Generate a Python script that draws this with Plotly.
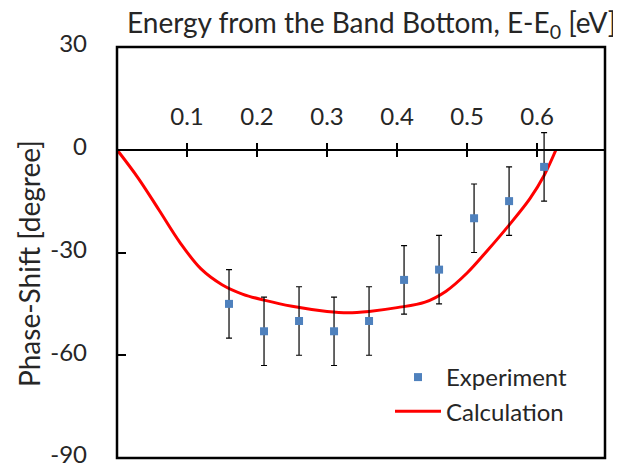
import plotly.graph_objects as go

# Experimental data
exp_x = [0.16, 0.21, 0.26, 0.31, 0.36, 0.41, 0.46, 0.51, 0.56, 0.61]
exp_y = [-45, -53, -50, -53, -50, -38, -35, -20, -15, -5]
exp_err = [10, 10, 10, 10, 10, 10, 10, 10, 10, 10]

# Calculated curve
calc_x = [0, 0.03, 0.06, 0.09, 0.12, 0.15, 0.18, 0.21, 0.25, 0.30, 0.33, 0.36,
          0.40, 0.44, 0.47, 0.50, 0.53, 0.56, 0.59, 0.61, 0.627]
calc_y = [0, -8.2, -17.6, -27.1, -34.8, -39.4, -42.2, -43.9, -45.7, -47.2, -47.6,
          -47.2, -46.1, -44.5, -41.3, -36.0, -29.2, -22.0, -14.2, -7.5, 0]

x_ticks = [0.1, 0.2, 0.3, 0.4, 0.5, 0.6]
x_tick_text = ["0.1", "0.2", "0.3", "0.4", "0.5", "0.6"]
y_ticks = [30, 0, -30, -60, -90]
y_tick_text = ["30", "0", "-30", "-60", "-90"]

FONT = "Lato"
TXT = "#262626"

# page body has an 8px margin; layout is compensated for it
ML, MT, PW, PH = 109, 39, 488, 411
W, H = 613, 458


def px(x):
    return (x - 8 - ML) / PW


def py(y):
    return (MT + PH - (y - 8)) / PH


fig = go.Figure()
fig.add_trace(go.Scatter(
    x=calc_x, y=calc_y, mode="lines", name="Calculation",
    line=dict(color="#ff0000", width=3, shape="spline", smoothing=1.0),
    legendgroup="b", legendrank=2,
))
fig.add_trace(go.Scatter(
    x=exp_x, y=exp_y, mode="markers", name="Experiment",
    marker=dict(symbol="square", size=8, color="#4f81bd"),
    error_y=dict(type="data", array=exp_err, color="black", thickness=1.2, width=3),
    legendgroup="a", legendrank=1,
))

fig.update_layout(
    width=W, height=H,
    margin=dict(l=ML, r=W - ML - PW, t=MT, b=H - MT - PH, autoexpand=False),
    paper_bgcolor="white", plot_bgcolor="white",
    font=dict(family=FONT, size=24, color=TXT),
    showlegend=True,
    legend=dict(x=px(390), y=py(355), xanchor="left", yanchor="top",
                bgcolor="rgba(0,0,0,0)", font=dict(size=24, color=TXT),
                traceorder="grouped", tracegroupgap=0, itemwidth=46),
    xaxis=dict(range=[0, 0.697], anchor="free", position=0.75, side="top",
               tickvals=x_ticks, ticktext=x_tick_text, ticks="outside", ticklen=6,
               tickwidth=2, tickcolor="black", showline=True, linecolor="black",
               linewidth=2, showgrid=False, zeroline=False, ticklabelstandoff=8,
               automargin=False, tickfont=dict(size=24, color=TXT)),
    xaxis2=dict(range=[0, 0.697], anchor="free", position=0.75, side="bottom",
                overlaying="x", matches="x", tickvals=x_ticks, ticks="outside",
                ticklen=6, tickwidth=2, tickcolor="black", showticklabels=False,
                showline=False, showgrid=False, zeroline=False, automargin=False),
    yaxis=dict(range=[-90, 30], tickvals=y_ticks, ticktext=y_tick_text,
               ticks="inside", ticklen=9,
               tickwidth=2, tickcolor="black", showline=False, showgrid=False,
               zeroline=False, ticklabelstandoff=29, ticklabeloverflow="allow",
               ticklabelshift=-3, automargin=False,
               tickfont=dict(size=24, color=TXT)),
    shapes=[dict(type="rect", xref="paper", yref="paper", x0=0, x1=1, y0=0, y1=1,
                 line=dict(color="black", width=2.5), layer="above")],
    annotations=[
        dict(text="Energy from the Band Bottom, E-E<sub>0</sub> [eV]", xref="paper",
             yref="paper", x=px(371), y=py(24), xanchor="center",
             yanchor="middle", showarrow=False, font=dict(size=28, color=TXT)),
        dict(text="Phase-Shift [degree]", xref="paper", yref="paper",
             x=px(29), y=py(264), xanchor="center",
             yanchor="middle", textangle=-90, showarrow=False,
             font=dict(size=28, color=TXT)),
    ],
)
# dummy trace on xaxis2 so the axis is rendered
fig.add_trace(go.Scatter(x=[None], y=[None], xaxis="x2", showlegend=False,
                         hoverinfo="skip"))

fig.write_html("out.html")
